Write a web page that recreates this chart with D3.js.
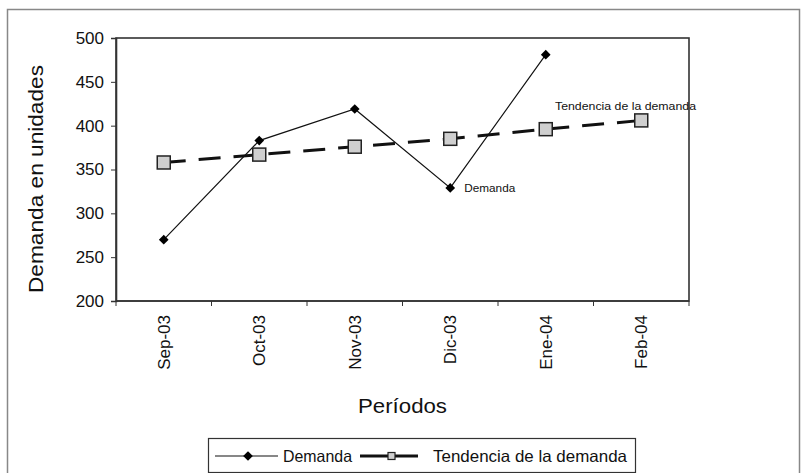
<!DOCTYPE html>
<html>
<head>
<meta charset="utf-8">
<script src="https://cdn.jsdelivr.net/npm/d3@7"></script>
<style>
  html, body { margin: 0; padding: 0; background: #fff; }
  svg { display: block; font-family: "Liberation Sans", Arial, sans-serif; }
</style>
</head>
<body>
<svg id="chart" width="801" height="473"></svg>
<script>
// Monthly periods and values
const periods = ["Sep-03", "Oct-03", "Nov-03", "Dic-03", "Ene-04", "Feb-04"];
const demanda = [270, 383, 419, 329, 481];            // observed demand (no Feb value)
const tendencia = [358, 367, 376, 385, 396, 406];       // demand trend
const yTicks = [200, 250, 300, 350, 400, 450, 500];

const svg = d3.select("#chart");
const plot = { left: 116, right: 689, top: 38, bottom: 301 };

const x = d3.scaleBand().domain(periods).range([plot.left, plot.right]);
const y = d3.scaleLinear().domain([200, 500]).range([plot.bottom, plot.top]);
const cx = d => x(d) + x.bandwidth() / 2;

// outer frame
svg.append("rect")
  .attr("x", 7.5).attr("y", 9.5).attr("width", 792).attr("height", 470)
  .attr("fill", "none").attr("stroke", "#888").attr("stroke-width", 1.5);

// plot area box
svg.append("rect")
  .attr("x", plot.left).attr("y", plot.top)
  .attr("width", plot.right - plot.left).attr("height", plot.bottom - plot.top)
  .attr("fill", "none").attr("stroke", "#333").attr("stroke-width", 1.6);

// y axis
const yAxis = svg.append("g")
  .attr("transform", `translate(${plot.left},0)`)
  .call(d3.axisLeft(y).tickValues(yTicks).tickSize(5).tickPadding(7));
yAxis.select(".domain").attr("stroke", "#333").attr("stroke-width", 1.6);
yAxis.selectAll(".tick line").attr("stroke", "#333");
yAxis.selectAll(".tick text")
  .attr("font-size", 17).attr("fill", "#111")
  .attr("font-family", "Liberation Sans, Arial, sans-serif");

// x axis: ticks at category boundaries
const xAxis = svg.append("g").attr("transform", `translate(0,${plot.bottom})`);
xAxis.append("line")
  .attr("x1", plot.left).attr("x2", plot.right)
  .attr("stroke", "#333").attr("stroke-width", 1.6);
const bounds = periods.map(p => x(p)).concat([plot.right]);
xAxis.selectAll("line.tick").data(bounds).join("line")
  .attr("class", "tick")
  .attr("x1", d => d).attr("x2", d => d)
  .attr("y1", 0).attr("y2", 5)
  .attr("stroke", "#333");
xAxis.selectAll("text").data(periods).join("text")
  .attr("transform", d => `translate(${cx(d) + 6},14) rotate(-90)`)
  .attr("text-anchor", "end")
  .attr("font-size", 17).attr("fill", "#111")
  .text(d => d);

// axis titles
svg.append("text")
  .attr("transform", `translate(43,179) rotate(-90)`)
  .attr("text-anchor", "middle")
  .attr("font-size", 20).attr("fill", "#111")
  .attr("textLength", 228).attr("lengthAdjust", "spacingAndGlyphs")
  .text("Demanda en unidades");
svg.append("text")
  .attr("x", (plot.left + plot.right) / 2).attr("y", 413)
  .attr("text-anchor", "middle")
  .attr("font-size", 20).attr("fill", "#111")
  .attr("textLength", 89).attr("lengthAdjust", "spacingAndGlyphs")
  .text("Períodos");

// trend series: dashed thick line with square markers
const trendPts = periods.map((p, i) => [cx(p), y(tendencia[i])]);
svg.append("path")
  .attr("d", d3.line()(trendPts))
  .attr("fill", "none").attr("stroke", "#111")
  .attr("stroke-width", 3).attr("stroke-dasharray", "22,13");

// demand series: thin solid line with diamonds
const demPts = demanda.map((v, i) => [cx(periods[i]), y(v)]);
svg.append("path")
  .attr("d", d3.line()(demPts))
  .attr("fill", "none").attr("stroke", "#111").attr("stroke-width", 1.2);

svg.selectAll("rect.sq").data(trendPts).join("rect")
  .attr("class", "sq")
  .attr("x", d => d[0] - 6.5).attr("y", d => d[1] - 6.5)
  .attr("width", 13).attr("height", 13)
  .attr("fill", "#cfcfcf").attr("stroke", "#222").attr("stroke-width", 1.5);

const diamond = d3.symbol().type(d3.symbolDiamond2).size(60);
svg.selectAll("path.dm").data(demPts).join("path")
  .attr("class", "dm")
  .attr("transform", d => `translate(${d[0]},${d[1]})`)
  .attr("d", diamond).attr("fill", "#000");

// series labels
svg.append("text")
  .attr("x", cx(periods[3]) + 14).attr("y", y(demanda[3]) + 4)
  .attr("font-size", 11).attr("fill", "#111")
  .attr("textLength", 51).attr("lengthAdjust", "spacingAndGlyphs")
  .text("Demanda");
svg.append("text")
  .attr("x", 555).attr("y", y(tendencia[5]) - 10)
  .attr("font-size", 11).attr("fill", "#111")
  .attr("textLength", 141).attr("lengthAdjust", "spacingAndGlyphs")
  .text("Tendencia de la demanda");

// legend
const lg = svg.append("g");
lg.append("rect")
  .attr("x", 208.5).attr("y", 438.5).attr("width", 427).attr("height", 34)
  .attr("fill", "#fff").attr("stroke", "#333").attr("stroke-width", 1.2);
lg.append("line").attr("x1", 215).attr("x2", 278).attr("y1", 456).attr("y2", 456)
  .attr("stroke", "#111").attr("stroke-width", 1.2);
lg.append("path").attr("transform", "translate(248,456)")
  .attr("d", diamond).attr("fill", "#000");
lg.append("text").attr("x", 283).attr("y", 462)
  .attr("font-size", 16.5).attr("fill", "#111")
  .attr("textLength", 69).attr("lengthAdjust", "spacingAndGlyphs")
  .text("Demanda");
lg.append("line").attr("x1", 360).attr("x2", 418).attr("y1", 456).attr("y2", 456)
  .attr("stroke", "#111").attr("stroke-width", 3);
lg.append("rect").attr("x", 388).attr("y", 452.5).attr("width", 7).attr("height", 7)
  .attr("fill", "#cfcfcf").attr("stroke", "#222").attr("stroke-width", 1.2);
lg.append("text").attr("x", 433).attr("y", 462)
  .attr("font-size", 16.5).attr("fill", "#111")
  .attr("textLength", 194).attr("lengthAdjust", "spacingAndGlyphs")
  .text("Tendencia de la demanda");
</script>
</body>
</html>
